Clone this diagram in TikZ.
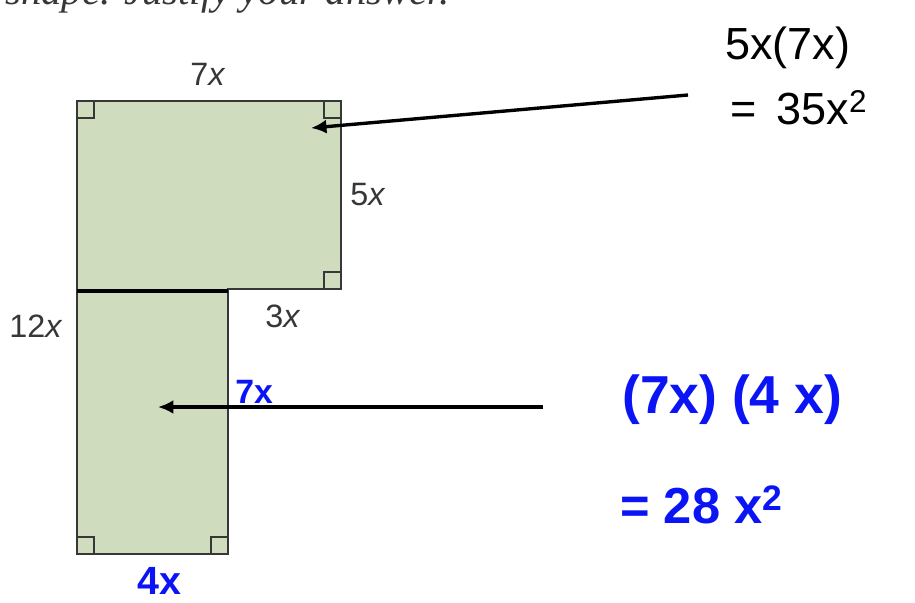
\documentclass[tikz,border=0pt]{standalone}
\usepackage{fontspec}
\setmainfont{Liberation Sans}
\newfontfamily\bookserif{Liberation Serif}
\usetikzlibrary{arrows.meta}
\definecolor{shapegreen}{RGB}{207,221,190}
\definecolor{edgegray}{RGB}{55,55,55}
\definecolor{penblue}{RGB}{10,20,245}
\begin{document}
\begin{tikzpicture}[x=0.025cm, y=-0.025cm,
    side/.style={font=\fontsize{23}{26}\selectfont, text=edgegray, inner sep=0pt},
    hand/.style={font=\fontsize{32}{36}\selectfont, inner sep=0pt, anchor=base west},
    bluehand/.style={font=\bfseries\fontsize{36}{40}\selectfont, text=penblue, inner sep=0pt, anchor=base west},
    corner/.style={draw=edgegray, line width=1.3pt},
    arrow/.style={-{Latex[length=11pt,width=10pt]}, line width=2.4pt}
]
\useasboundingbox (0,0) rectangle (915,603);

% Question text (cut off at the top)
\node[font=\bookserif\itshape\fontsize{29}{32}\selectfont, text=edgegray, anchor=base west, inner sep=0pt] (question) at (5,5) {shape. Justify your answer.};

% L-shaped figure
\filldraw[fill=shapegreen, draw=edgegray, line width=1.4pt]
    (77,101) -- (341,101) -- (341,289) -- (228,289) -- (228,554) -- (77,554) -- cycle;

% Right-angle marks
\draw[corner] (77,118) -| (94,101);
\draw[corner] (324,101) |- (341,118);
\draw[corner] (324,289) |- (341,272);
\draw[corner] (77,537) -| (94,554);
\draw[corner] (211,554) |- (228,537);

% Dividing line
\draw[line width=2.6pt] (77,291) -- (228,291);

% Side lengths
\node[side] (top) at (208,74) {7\textit{x}};
\node[side] (right) at (368,195) {5\textit{x}};
\node[side] (step) at (283,316) {3\textit{x}};
\node[side] (left) at (36,326) {12\textit{x}};
\node[bluehand, font=\bfseries\fontsize{24}{26}\selectfont] (lowright) at (235,404) {7x};
\node[bluehand, font=\bfseries\fontsize{28}{30}\selectfont] (bottom) at (137,594) {4x};

% Upper rectangle area
\node[hand] (prodA) at (725,60) {5x(7x)};
\node[hand] (areaA) at (730,125) {=\, 35x\textsuperscript{2}};
\coordinate (startA) at (688,95);
\coordinate (tipA) at (311,128);
\draw[arrow] (startA) -- (tipA);

% Lower rectangle area
\node[bluehand, font=\bfseries\fontsize{38}{42}\selectfont] (prodB) at (622,413) {(7x) (4 x)};
\node[bluehand] (areaB) at (620,523) {= 28 x\textsuperscript{2}};
\coordinate (startB) at (543,407);
\coordinate (tipB) at (158,407);
\draw[arrow] (startB) -- (tipB);

\end{tikzpicture}
\end{document}
